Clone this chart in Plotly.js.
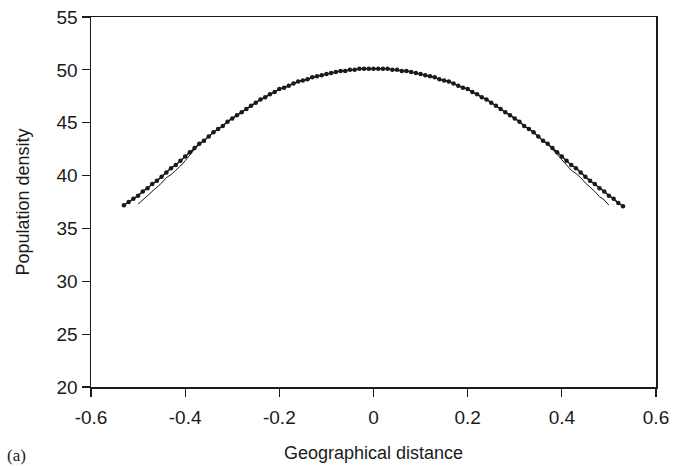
<!DOCTYPE html>
<html>
<head>
<meta charset="utf-8">
<script src="https://cdn.plot.ly/plotly-3.0.1.min.js"></script>
<style>html,body{margin:0;padding:0;background:#fff;}#chart{width:686px;height:466px;}</style>
</head>
<body>
<div id="chart"></div>
<script>
// Observed data (dotted series)
const obsX = [-0.53,-0.52,-0.51,-0.50,-0.49,-0.48,-0.47,-0.46,-0.45,-0.44,-0.43,-0.42,-0.41,-0.40,-0.39,-0.38,-0.37,-0.36,-0.35,-0.34,-0.33,-0.32,-0.31,-0.30,-0.29,-0.28,-0.27,-0.26,-0.25,-0.24,-0.23,-0.22,-0.21,-0.20,-0.19,-0.18,-0.17,-0.16,-0.15,-0.14,-0.13,-0.12,-0.11,-0.10,-0.09,-0.08,-0.07,-0.06,-0.05,-0.04,-0.03,-0.02,-0.01,0.00,0.01,0.02,0.03,0.04,0.05,0.06,0.07,0.08,0.09,0.10,0.11,0.12,0.13,0.14,0.15,0.16,0.17,0.18,0.19,0.20,0.21,0.22,0.23,0.24,0.25,0.26,0.27,0.28,0.29,0.30,0.31,0.32,0.33,0.34,0.35,0.36,0.37,0.38,0.39,0.40,0.41,0.42,0.43,0.44,0.45,0.46,0.47,0.48,0.49,0.50,0.51,0.52,0.53];
const obsY = [37.2,37.5,37.8,38.1,38.5,38.8,39.2,39.5,39.9,40.3,40.7,41.0,41.4,41.8,42.2,42.6,43.0,43.3,43.7,44.1,44.4,44.7,45.1,45.4,45.7,46.0,46.3,46.6,46.9,47.2,47.4,47.7,47.9,48.2,48.3,48.5,48.7,48.9,49.0,49.1,49.3,49.4,49.5,49.6,49.7,49.8,49.9,49.9,50.0,50.0,50.1,50.1,50.1,50.1,50.1,50.1,50.1,50.0,50.0,49.9,49.9,49.8,49.7,49.6,49.5,49.4,49.3,49.1,49.0,48.9,48.7,48.5,48.3,48.2,47.9,47.7,47.4,47.2,46.9,46.6,46.3,46.0,45.7,45.4,45.1,44.7,44.4,44.1,43.7,43.3,43.0,42.6,42.2,41.8,41.4,41.0,40.7,40.3,39.9,39.5,39.2,38.8,38.5,38.1,37.8,37.4,37.1];

// Model (solid line)
const modelX = [-0.50,-0.49,-0.48,-0.47,-0.46,-0.45,-0.44,-0.43,-0.42,-0.41,-0.40,-0.39,-0.38,-0.37,-0.36,-0.35,-0.34,-0.33,-0.32,-0.31,-0.30,-0.29,-0.28,-0.27,-0.26,-0.25,-0.24,-0.23,-0.22,-0.21,-0.20,-0.19,-0.18,-0.17,-0.16,-0.15,-0.14,-0.13,-0.12,-0.11,-0.10,-0.09,-0.08,-0.07,-0.06,-0.05,-0.04,-0.03,-0.02,-0.01,0.00,0.01,0.02,0.03,0.04,0.05,0.06,0.07,0.08,0.09,0.10,0.11,0.12,0.13,0.14,0.15,0.16,0.17,0.18,0.19,0.20,0.21,0.22,0.23,0.24,0.25,0.26,0.27,0.28,0.29,0.30,0.31,0.32,0.33,0.34,0.35,0.36,0.37,0.38,0.39,0.40,0.41,0.42,0.43,0.44,0.45,0.46,0.47,0.48,0.49,0.50];
const modelY = [37.3,37.7,38.1,38.5,38.9,39.3,39.8,40.1,40.5,40.9,41.4,42.0,42.5,43.0,43.3,43.7,44.1,44.4,44.7,45.1,45.4,45.7,46.0,46.3,46.6,46.9,47.2,47.4,47.7,47.9,48.2,48.3,48.5,48.7,48.9,49.0,49.1,49.3,49.4,49.5,49.6,49.7,49.8,49.9,49.9,50.0,50.0,50.1,50.1,50.1,50.1,50.1,50.1,50.1,50.0,50.0,49.9,49.9,49.8,49.7,49.6,49.5,49.4,49.3,49.1,49.0,48.9,48.7,48.5,48.3,48.2,47.9,47.7,47.4,47.2,46.9,46.6,46.3,46.0,45.7,45.4,45.1,44.7,44.4,44.1,43.7,43.3,43.0,42.5,42.0,41.5,40.9,40.5,40.2,39.8,39.3,38.9,38.5,38.0,37.7,37.2];

const xTickVals = [-0.6,-0.4,-0.2,0,0.2,0.4,0.6];
const xTickText = ['-0.6','-0.4','-0.2','0','0.2','0.4','0.6'];
const yTickVals = [20,25,30,35,40,45,50,55];

const ink = '#1a1a1a';
const traces = [
  {x: modelX, y: modelY, type: 'scatter', mode: 'lines', line: {color: ink, width: 1}, showlegend: false, hoverinfo: 'skip'},
  {x: obsX, y: obsY, type: 'scatter', mode: 'lines+markers', line: {color: ink, width: 1.5}, marker: {color: ink, size: 4.5}, showlegend: false}
];

const axisCommon = {
  showgrid: false, zeroline: false, showline: true, linecolor: ink, linewidth: 1.5,
  mirror: true, ticks: 'outside', ticklen: 8, tickwidth: 1.2, tickcolor: ink,
  tickfont: {family: 'Liberation Sans, Arial, sans-serif', size: 19, color: ink}
};

const layout = {
  width: 686, height: 466,
  margin: {l: 91, r: 30, t: 17, b: 79},
  paper_bgcolor: '#fff', plot_bgcolor: '#fff',
  font: {family: 'Liberation Sans, Arial, sans-serif', size: 18, color: ink},
  xaxis: Object.assign({}, axisCommon, {
    range: [-0.6, 0.6], tickvals: xTickVals, ticktext: xTickText, automargin: false,
    ticklabelstandoff: 5,
    title: {text: 'Geographical distance', standoff: 19, font: {size: 18, color: ink}}
  }),
  yaxis: Object.assign({}, axisCommon, {
    range: [20, 55], tickvals: yTickVals, automargin: false,
    title: {text: 'Population density', standoff: 22, font: {size: 18, color: ink}}
  }),
  annotations: [{
    text: '(a)', xref: 'paper', yref: 'paper', x: -0.152, y: -0.184,
    xanchor: 'left', yanchor: 'middle', showarrow: false,
    font: {family: 'Liberation Serif, Times New Roman, serif', size: 17, color: ink}
  }]
};

Plotly.newPlot('chart', traces, layout, {displayModeBar: false, staticPlot: true});
</script>
</body>
</html>
